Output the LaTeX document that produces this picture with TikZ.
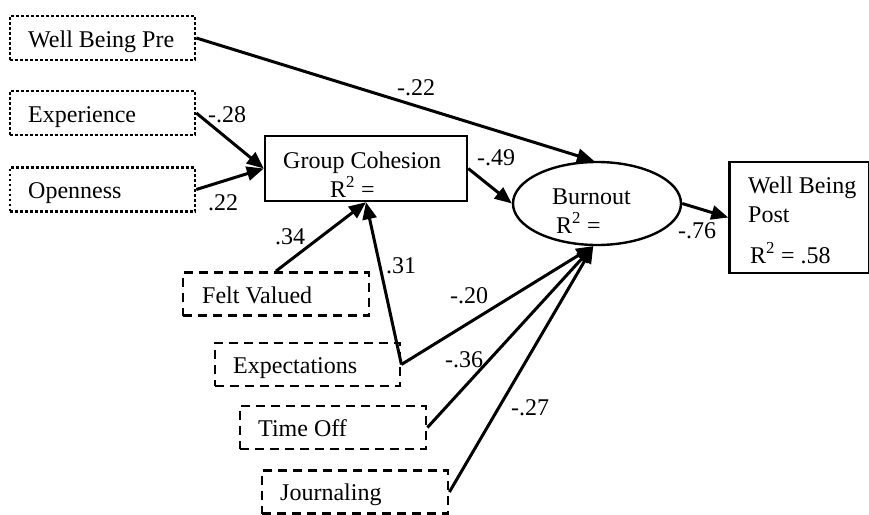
\documentclass[tikz,border=0pt]{standalone}
\usepackage{fontspec}
\setmainfont{Liberation Serif}
\usetikzlibrary{arrows.meta,shapes.geometric}
\begin{document}
\begin{tikzpicture}[x=1pt,y=-1pt,
  every node/.style={font=\fontsize{24}{28}\selectfont},
  dotbox/.style={draw,line width=2.6pt,dash pattern=on 2.6pt off 2.4pt,minimum width=#1,minimum height=44pt,inner sep=0pt},
  dashbox/.style={draw,line width=2.8pt,dash pattern=on 9pt off 6pt,minimum width=#1,minimum height=43pt,inner sep=0pt},
  solidbox/.style={draw,line width=2.4pt,inner sep=0pt},
  txt/.style={anchor=base west,inner sep=0pt},
  lbl/.style={anchor=base west,inner sep=0pt},
  arr/.style={line width=3pt,-{Triangle[length=17pt,width=14pt]},shorten >=0pt}
]
\useasboundingbox (0,0) rectangle (869,514);
% exogenous observed (dotted)
\node[dotbox=185pt] (wbpre) at (102.5,38) {};
\node[dotbox=185pt] (exper) at (102.5,113) {};
\node[dotbox=185pt] (open) at (102.5,189.5) {};
% dashed
\node[dashbox=186pt] (felt) at (276,294) {};
\node[dashbox=185pt] (expect) at (307.5,364.5) {};
\node[dashbox=186pt] (timeoff) at (333,427.5) {};
\node[dashbox=186pt] (journ) at (355,492) {};
% endogenous
\node[solidbox,minimum width=202pt,minimum height=65pt] (gc) at (366,168.5) {};
\node[draw,ellipse,line width=2.4pt,minimum width=168pt,minimum height=83pt,inner sep=0pt] (burn) at (597,203.5) {};
\node[solidbox,minimum width=140pt,minimum height=111pt] (post) at (799.5,217.5) {};
% texts
\node[txt] (t1) at (28,47) {Well Being Pre};
\node[txt] (t2) at (28,122) {Experience};
\node[txt] (t3) at (28,198) {Openness};
\node[txt] (t4) at (283,168) {Group Cohesion};
\node[txt] (t5) at (330,197) {R\textsuperscript{2} =};
\node[txt] (t6) at (552,204) {Burnout};
\node[txt] (t7) at (556,233) {R\textsuperscript{2} =};
\node[txt] (t8) at (748,193) {Well Being};
\node[txt] (t9) at (748,222) {Post};
\node[txt] (t10) at (750,263) {R\textsuperscript{2} = .58};
\node[txt] (t11) at (202,303) {Felt Valued};
\node[txt] (t12) at (233,373) {Expectations};
\node[txt] (t13) at (258,436) {Time Off};
\node[txt] (t14) at (280,500) {Journaling};
% connectors
\draw[arr] (wbpre.east) -- (burn.94);
\draw[arr] (exper.east) -- (gc.west);
\draw[arr] (open.east) -- (gc.west);
\draw[arr] (gc.east) -- (burn.west);
\draw[arr] (felt.north) -- (gc.south);
\draw[arr] (expect.east) -- (gc.south);
\draw[arr] (expect.east) -- (burn.265);
\draw[arr] (timeoff.east) -- (burn.265);
\draw[arr] (journ.east) -- (burn.265);
\draw[arr] (burn.east) -- (post.west);
% labels
\node[lbl] (l1) at (397,95) {-.22};
\node[lbl] (l2) at (208,122) {-.28};
\node[lbl] (l3) at (208,210) {.22};
\node[lbl] (l4) at (477,165) {-.49};
\node[lbl] (l5) at (275,244) {.34};
\node[lbl] (l6) at (386,273) {.31};
\node[lbl] (l7) at (450,303) {-.20};
\node[lbl] (l8) at (445,367) {-.36};
\node[lbl] (l9) at (511,415) {-.27};
\node[lbl] (l10) at (678,238) {-.76};
\end{tikzpicture}
\end{document}
